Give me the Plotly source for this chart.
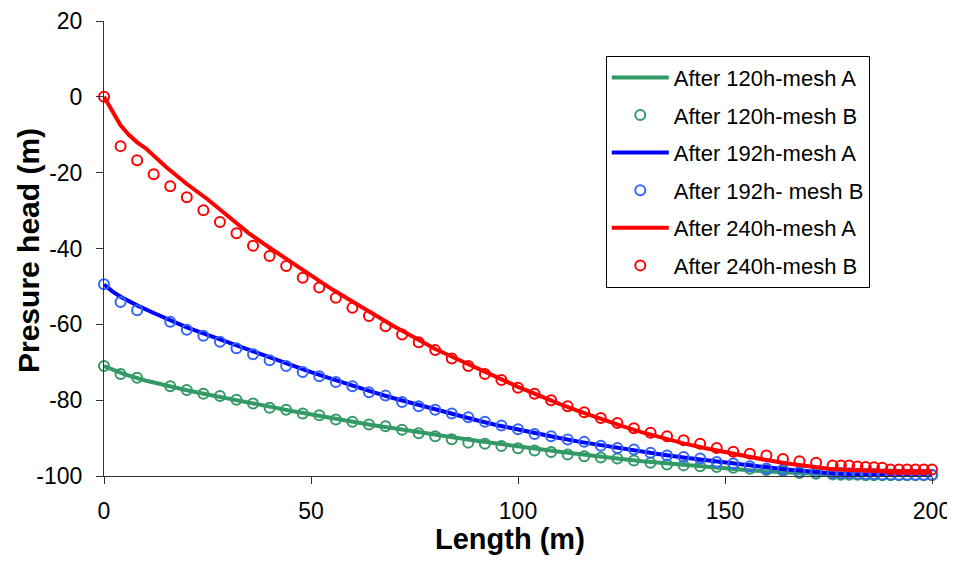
import plotly.graph_objects as go

# ---- data ----
# mesh A (lines)
green_a_x = [0, 5, 10, 15, 20, 25, 30, 35, 40, 45, 50, 55, 60, 65, 70, 75, 80, 85, 90, 95, 100,
             105, 110, 115, 120, 125, 130, 135, 140, 145, 150, 155, 160, 165, 170, 175, 180, 185, 190, 200]
green_a_y = [-71, -73.2, -74.8, -76.2, -77.4, -78.5, -79.5, -80.6, -81.7, -82.8, -83.8, -84.8, -85.7,
             -86.6, -87.4, -88.3, -89.1, -89.9, -90.7, -91.5, -92.2, -92.9, -93.6, -94.3, -94.9, -95.5,
             -96.1, -96.6, -97.1, -97.6, -98.0, -98.4, -98.8, -99.1, -99.4, -99.6, -99.8, -99.9, -100, -100]

blue_a_x = [0, 2, 4, 8, 12, 16, 20, 25, 30, 35, 40, 45, 50, 55, 60, 65, 70, 75, 80, 85, 90, 95, 100,
            105, 110, 115, 120, 125, 130, 135, 140, 145, 150, 155, 160, 165, 170, 175, 180, 185, 190, 195, 200]
blue_a_y = [-49.5, -51.3, -52.7, -55, -57, -59, -60.8, -62.8, -64.8, -66.8, -68.8, -70.7, -72.6, -74.4,
            -76.2, -77.9, -79.5, -81, -82.5, -84, -85.3, -86.6, -87.8, -88.9, -90, -91, -91.9, -92.8,
            -93.6, -94.4, -95.1, -95.8, -96.5, -97.1, -97.7, -98.3, -98.8, -99.2, -99.5, -99.7, -99.8,
            -99.9, -99.9]

red_a_x = [0, 2, 4, 6, 8, 10, 15, 20, 25, 30, 35, 40, 45, 50, 55, 60, 65, 70, 75, 80, 85, 90, 95, 100,
           105, 110, 115, 120, 125, 130, 135, 140, 145, 150, 155, 160, 165, 170, 175, 180, 185, 190, 195, 200]
red_a_y = [0, -4, -7.5, -10, -12, -13.5, -18.5, -23, -27, -31.5, -36, -39.8, -43.5, -47.2, -50.7, -54,
           -57.3, -60.5, -63.5, -66.5, -69, -71.6, -74, -76.5, -78.8, -81, -83, -85, -86.8, -88.5, -90,
           -91.4, -92.6, -93.7, -94.8, -95.8, -96.7, -97.5, -98.1, -98.4, -98.6, -98.7, -98.8, -98.8]

# mesh B (markers)
b_x_gb = [0, 4, 8, 16, 20, 24, 28, 32, 36, 40, 44, 48, 52, 56, 60, 64, 68, 72, 76, 80, 84, 88, 92, 96,
          100, 104, 108, 112, 116, 120, 124, 128, 132, 136, 140, 144, 148, 152, 156, 160, 164, 168, 172,
          176, 178, 180, 182, 184, 186, 188, 190, 192, 194, 196, 198, 200]
green_b_y = [-71, -73.1, -74.1, -76.3, -77.3, -78.3, -78.9, -79.9, -80.9, -82, -82.5, -83.5, -84, -85.1,
             -85.7, -86.4, -86.9, -87.8, -88.7, -89.5, -90.3, -91.2, -91.5, -92.1, -92.7, -93.3, -93.7,
             -94.3, -94.8, -95.1, -95.4, -95.9, -96.5, -97.0, -97.2, -97.4, -97.6, -97.8, -98.1, -98.4,
             -98.7, -99.2, -99.4, -99.6, -99.7, -99.7, -99.7, -99.8, -99.8, -99.8, -99.8, -99.8, -99.8,
             -99.8, -99.8, -99.8]
blue_b_y = [-49.4, -54.1, -56.3, -59.3, -61.4, -63, -64.6, -66.3, -67.9, -69.5, -71, -72.6, -73.7, -75.2,
            -76.3, -77.9, -78.8, -80.5, -81.6, -82.5, -83.5, -84.5, -85.7, -86.7, -87.7, -88.9, -89.5,
            -90.4, -91, -92, -92.6, -93, -93.9, -94.6, -95, -95.4, -96.3, -96.7, -97.4, -98, -98.3,
            -98.9, -98.9, -99.2, -99.3, -99.3, -99.4, -99.5, -99.5, -99.6, -99.6, -99.7, -99.7, -99.7,
            -99.7, -99.7]
red_b_x = [0, 4, 8, 12, 16, 20, 24, 28, 32, 36, 40, 44, 48, 52, 56, 60, 64, 68, 72, 76, 80, 84, 88, 92,
           96, 100, 104, 108, 112, 116, 120, 124, 128, 132, 136, 140, 144, 148, 152, 156, 160, 164, 168,
           172, 176, 178, 180, 182, 184, 186, 188, 190, 192, 194, 196, 198, 200]
red_b_y = [0, -13, -16.7, -20.4, -23.6, -26.5, -29.9, -33, -36, -39.3, -42, -44.6, -47.7, -50.3, -53,
           -55.6, -57.8, -60.5, -62.7, -64.7, -66.8, -69, -71, -73.1, -74.7, -76.7, -78.3, -80, -81.6,
           -83.2, -84.7, -86, -87.4, -88.6, -89.5, -90.6, -91.5, -92.6, -93.6, -94.1, -94.6, -95.5,
           -96.1, -96.5, -97.2, -97.2, -97.2, -97.5, -97.6, -97.7, -97.8, -98.3, -98.3, -98.3, -98.3,
           -98.3, -98.3]

x_ticks = [0, 50, 100, 150, 200]
x_tick_labels = ["0", "50", "100", "150", "200"]
y_ticks = [-100, -80, -60, -40, -20, 0, 20]
y_tick_labels = ["-100", "-80", "-60", "-40", "-20", "0", "20"]

x_title = "Length (m)"
y_title = "Presure head (m)"

GREEN = "#339966"
BLUE_LINE = "#0000FF"
BLUE_MK = "#3366FF"
RED = "#FF0000"

FONT = "Liberation Sans, Arial, sans-serif"

fig = go.Figure()

def line(x, y, name, color, grp):
    fig.add_trace(go.Scatter(x=x, y=y, mode="lines", name=name, legendgroup=grp,
                             line=dict(color=color, width=4), cliponaxis=False))

def mark(x, y, name, color, grp):
    fig.add_trace(go.Scatter(x=x, y=y, mode="markers", name=name, legendgroup=grp,
                             marker=dict(symbol="circle-open", size=10, color=color,
                                         line=dict(width=2, color=color)),
                             cliponaxis=False))

line(green_a_x, green_a_y, "After 120h-mesh A", GREEN, "g1")
mark(b_x_gb, green_b_y, "After 120h-mesh B", GREEN, "g2")
line(blue_a_x, blue_a_y, "After 192h-mesh A", BLUE_LINE, "g3")
mark(b_x_gb, blue_b_y, "After 192h- mesh B", BLUE_MK, "g4")
line(red_a_x, red_a_y, "After 240h-mesh A", RED, "g5")
mark(red_b_x, red_b_y, "After 240h-mesh B", RED, "g6")

axis_common = dict(showgrid=False, zeroline=False, showline=True, linecolor="#333333", linewidth=1,
                   ticks="outside", ticklen=7, tickcolor="#333333", tickwidth=1, automargin=False,
                   tickfont=dict(family=FONT, size=23, color="black"))

fig.update_xaxes(range=[0, 200], tickmode="array", tickvals=x_ticks, ticktext=x_tick_labels,
                 ticklabelstandoff=7, **axis_common)
fig.update_yaxes(range=[-100, 20], tickmode="array", tickvals=y_ticks, ticktext=y_tick_labels,
                 ticklabelstandoff=9, **axis_common)

fig.add_annotation(text="<b>" + x_title + "</b>", xref="paper", yref="paper", x=0.5, y=0,
                   xanchor="center", yanchor="middle", xshift=-8, yshift=-63, showarrow=False,
                   font=dict(family=FONT, size=29, color="black"))
fig.add_annotation(text="<b>" + y_title + "</b>", xref="paper", yref="paper", x=0, y=0.5,
                   xanchor="center", yanchor="middle", xshift=-75.5, yshift=-2, showarrow=False,
                   textangle=-90, font=dict(family=FONT, size=30, color="black"))

fig.update_layout(
    width=947, height=554,
    margin=dict(l=96, r=23, t=13, b=86),
    paper_bgcolor="white", plot_bgcolor="white",
    font=dict(family=FONT, color="black"),
    legend=dict(x=0.606, y=0.924, xanchor="left", yanchor="top",
                bgcolor="white", bordercolor="black", borderwidth=1,
                font=dict(family=FONT, size=22, color="black"),
                traceorder="grouped", tracegroupgap=6, itemwidth=57),
)

fig.write_html("out.html")
